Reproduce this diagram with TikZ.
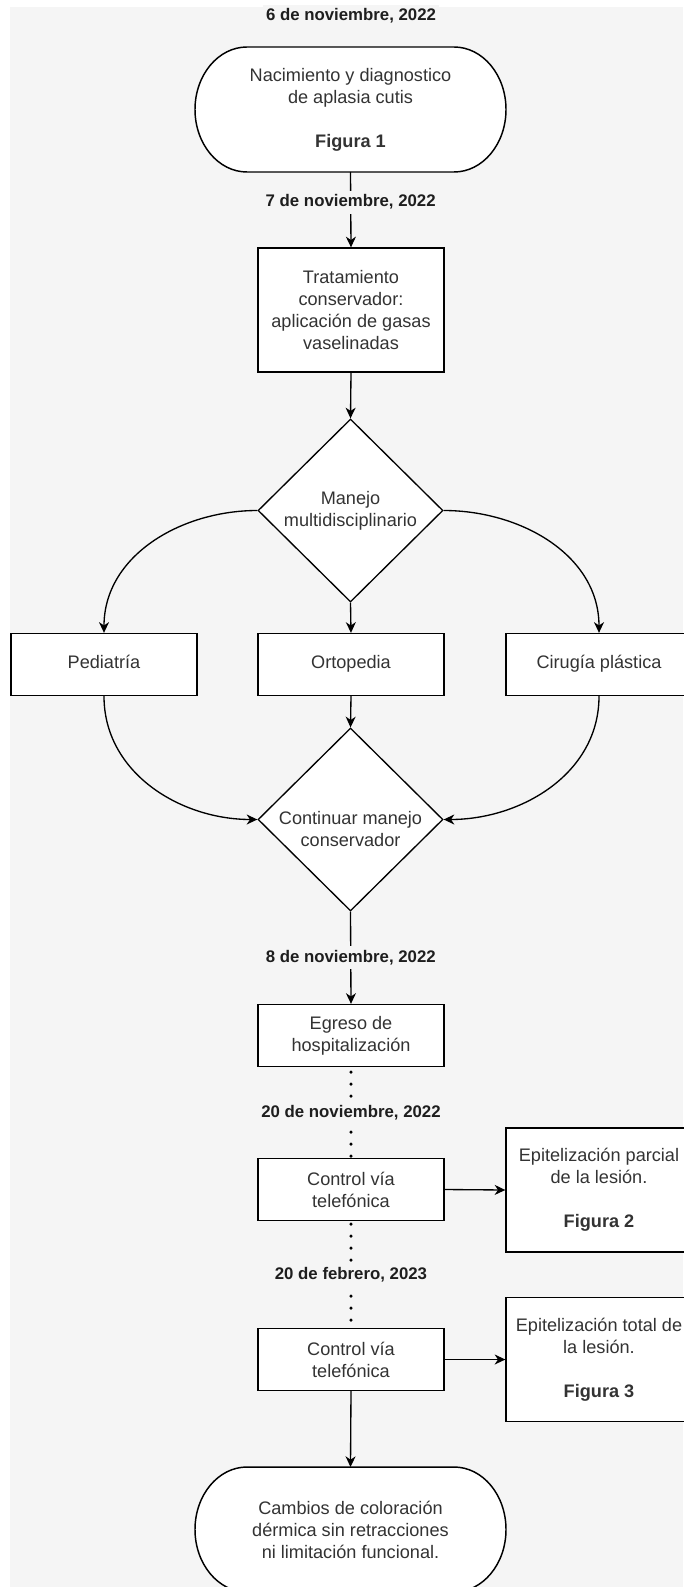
\documentclass[tikz,border=0pt]{standalone}
\usepackage{fontspec}
\setmainfont{Liberation Sans}
\usetikzlibrary{shapes.geometric,arrows.meta,backgrounds}
\definecolor{pagegrey}{RGB}{245,245,245}
\definecolor{boxtext}{RGB}{51,51,51}
\definecolor{datetext}{RGB}{30,30,30}

\begin{document}
\begin{tikzpicture}[x=0.75pt, y=0.75pt, line width=1pt,
    >={Stealth[length=8pt, width=7.5pt, inset=2.5pt]},
    every node/.style={font=\fontsize{13.6}{16.5}\selectfont, text=boxtext, align=center, inner sep=0pt},
    process/.style={draw, fill=white, minimum width=139.5pt, minimum height=46.5pt},
    tallprocess/.style={process, minimum height=93pt},
    decision/.style={diamond, draw, fill=white, aspect=1, minimum width=138.75pt, minimum height=137.25pt},
    terminal/.style={outer sep=0pt, minimum width=233.25pt, minimum height=93.75pt},
    termline/.style={draw, fill=white, line width=1.1pt},
    datelabel/.style={font=\bfseries\fontsize{12.6}{14}\selectfont, text=datetext, fill=pagegrey, inner xsep=2pt, inner ysep=3pt},
    dotline/.style={line width=2.6pt, line cap=round, dash pattern=on 0pt off 9pt, dash phase=5.25pt}]

    \useasboundingbox (0,0) rectangle (683,-1587);
    \begin{scope}[on background layer]
        \fill[pagegrey] (10,-7) rectangle (683,-1587);
    \end{scope}

    \node[datelabel] (d6nov) at (351,-16) {6 de noviembre, 2022};
    \node[terminal] (birth) at (350.5,-109.5) {Nacimiento y diagnostico\\de aplasia cutis\\[16.5pt]\textbf{Figura 1}};
    \node[tallprocess] (treat) at (351,-310) {Tratamiento\\conservador:\\aplicación de gasas\\vaselinadas};
    \node[decision] (manejo) at (350.5,-510.5) {Manejo\\multidisciplinario};
    \node[process] (pedia) at (104,-664.5) {\strut Pediatría};
    \node[process] (orto) at (351,-664.5) {\strut Ortopedia};
    \node[process] (ciru) at (599,-664.5) {\strut Cirugía plástica};
    \node[decision, label={[yshift=-7.5pt]center:Continuar manejo\\conservador}] (cont) at (350.5,-819.5) {};
    \node[process] (egreso) at (351,-1035.5) {Egreso de\\hospitalización};
    \node[process] (ctrl1) at (351,-1189.5) {Control vía\\telefónica};
    \node[tallprocess] (epip) at (599,-1190) {Epitelización parcial\\de la lesión.\\[16.5pt]\textbf{Figura 2}};
    \node[process] (ctrl2) at (351,-1359.5) {Control vía\\telefónica};
    \node[tallprocess] (epit) at (599,-1359.5) {Epitelización total de\\la lesión.\\[16.5pt]\textbf{Figura 3}};
    \node[terminal] (result) at (350.5,-1529.5) {Cambios de coloración\\dérmica sin retracciones\\ni limitación funcional.};

    \begin{scope}[on background layer]
        \path[termline] ([xshift=39pt]birth.north west) -- ([xshift=-39pt]birth.north east)
            arc[start angle=90, end angle=-90, x radius=39pt, y radius=46.875pt]
            -- ([xshift=39pt]birth.south west)
            arc[start angle=270, end angle=90, x radius=39pt, y radius=46.875pt] -- cycle;
        \path[termline] ([xshift=39pt]result.north west) -- ([xshift=-39pt]result.north east)
            arc[start angle=90, end angle=-90, x radius=39pt, y radius=46.875pt]
            -- ([xshift=39pt]result.south west)
            arc[start angle=270, end angle=90, x radius=39pt, y radius=46.875pt] -- cycle;
    \end{scope}

    \draw[->] (birth.south) -- (treat.north)
        node[datelabel, pos=.4] (d7nov) {7 de noviembre, 2022};
    \draw[->] (treat.south) -- (manejo.north);
    \draw[->] (manejo.west) to[out=180, in=90] (pedia.north);
    \draw[->] (manejo.south) -- (orto.north);
    \draw[->] (manejo.east) to[out=0, in=90] (ciru.north);
    \draw[->] (pedia.south) to[out=-90, in=180] (cont.west);
    \draw[->] (orto.south) -- (cont.north);
    \draw[->] (ciru.south) to[out=-90, in=0] (cont.east);
    \draw[->] (cont.south) -- (egreso.north)
        node[datelabel, pos=.5] (d8nov) {8 de noviembre, 2022};
    \draw[dotline] (egreso.south) -- (ctrl1.north)
        node[datelabel, pos=.5] (d20nov) {20 de noviembre, 2022};
    \draw[->] (ctrl1.east) -- (epip.west);
    \draw[dotline, dash phase=6.75pt] (ctrl1.south) -- (ctrl2.north)
        node[datelabel, pos=.5] (d20feb) {20 de febrero, 2023};
    \draw[->] (ctrl2.east) -- (epit.west);
    \draw[->] (ctrl2.south) -- (result.north);
\end{tikzpicture}
\end{document}
